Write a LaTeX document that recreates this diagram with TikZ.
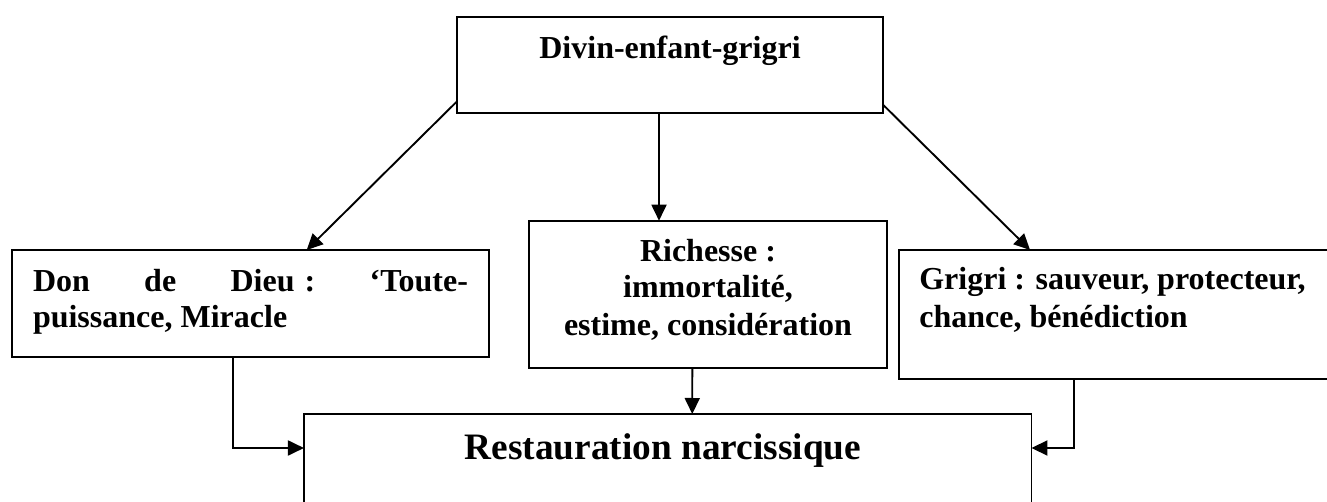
\documentclass[tikz,border=0pt]{standalone}
\usepackage{fontspec}
\setmainfont{Liberation Serif}
\usetikzlibrary{arrows.meta,calc}
\begin{document}
\begin{tikzpicture}[x=1pt,y=-1pt,
  box/.style={draw, line width=1.9pt, inner sep=0pt, outer sep=0pt},
  txt/.style={inner sep=0pt, outer sep=0pt, font=\fontsize{32}{37}\selectfont\bfseries},
  arr/.style={line width=1.9pt, -{Triangle[length=16pt,width=15pt]}}]
\useasboundingbox (0,0) rectangle (1327,502);
% boxes
\node[box, minimum width=426.6pt, minimum height=95.4pt] (top) at (670,65) {};
\node[box, minimum width=477pt, minimum height=107pt] (don) at (250.5,303.5) {};
\node[box, minimum width=358pt, minimum height=147pt] (rich) at (708.3,294.2) {};
\node[box, minimum width=445.7pt, minimum height=129pt] (grig) at (1122.2,314.5) {};
\node[box, minimum width=727.5pt, minimum height=116pt] (rest) at (667.7,472) {};
% texts
\node[txt, anchor=base] (ttop) at (670,59) {Divin-enfant-grigri};
\node[txt, anchor=base west] (tdon1) at (33,291.7) {\hbox to 435pt{Don\hfill de\hfill Dieu\hspace{10pt}:\hfill ‘Toute-}};
\node[txt, anchor=base west] (tdon2) at (33,328) {puissance, Miracle};
\node[txt, anchor=base] (trich1) at (708,261.7) {Richesse :};
\node[txt, anchor=base] (trich2) at (708,298) {immortalité,};
\node[txt, anchor=base] (trich3) at (708,335) {estime, considération};
\node[txt, anchor=base west] (tgrig1) at (919.3,290) {Grigri : sauveur, protecteur,};
\node[txt, anchor=base west] (tgrig2) at (919.3,327) {chance, bénédiction};
\node[txt, anchor=base, font=\fontsize{37.3}{43}\selectfont\bfseries] (trest) at (663,459) {Restauration narcissique};
% connectors
\draw[arr] ($(top.south west)+(0,-11)$) -- ($(don.north west)+(294.7,0)$);
\draw[arr] ($(top.south east)+(0,-7.7)$) -- ($(grig.north west)+(130.7,0)$);
\draw[arr] ($(top.south)+(-11,0)$) -- ($(rich.north west)+(129.7,0)$);
\draw[arr] ($(rich.south west)+(163,0)$) -- ($(rest.north west)+(388.3,0)$);
\draw[arr] ($(don.south west)+(221,0)$) |- ($(rest.north west)+(0,34)$);
\draw[arr] ($(grig.south west)+(174.7,0)$) |- ($(rest.north east)+(0,34)$);
\end{tikzpicture}
\end{document}
